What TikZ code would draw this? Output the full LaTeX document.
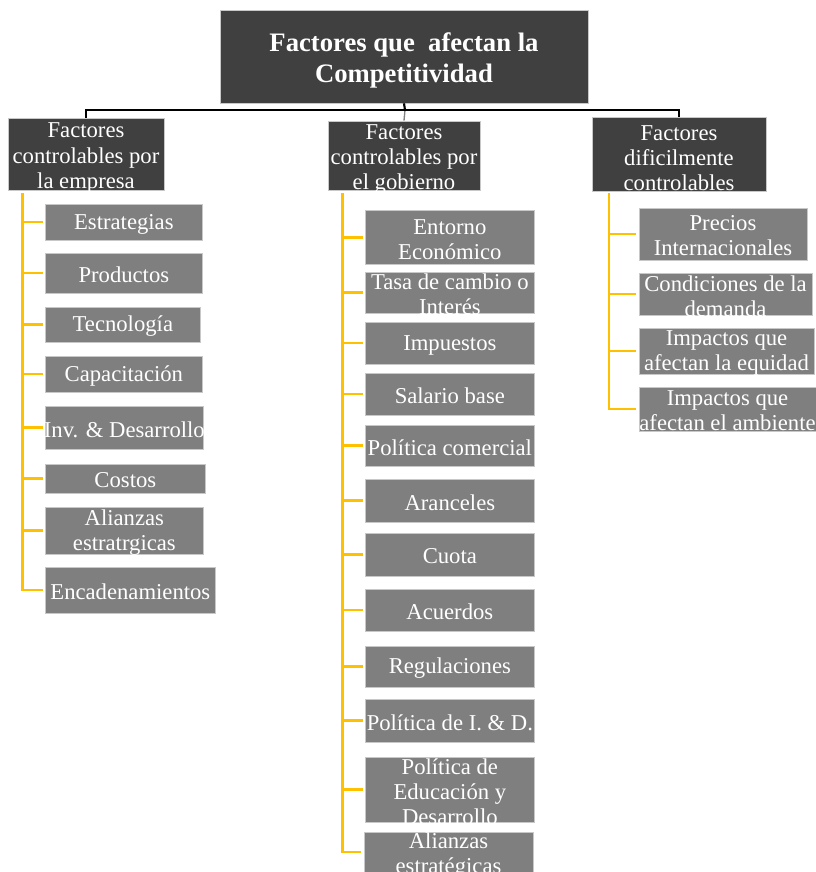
\documentclass[tikz,border=0pt]{standalone}
\usepackage{fontspec}
\setmainfont{Liberation Serif}
\usetikzlibrary{fit}
\definecolor{yel}{HTML}{FFC000}
\definecolor{darkbox}{HTML}{404040}
\definecolor{leafgray}{HTML}{7F7F7F}
\definecolor{edgegray}{HTML}{C8C8C8}
\tikzset{
  leafbox/.style={fill=leafgray, draw=edgegray, line width=0.5pt, inner sep=0pt},
  darkbox/.style={fill=darkbox, draw=edgegray, line width=0.5pt, inner sep=0pt},
  txt/.style={text=white, align=center, inner sep=0pt, yshift=-1.5pt, font=\fontsize{17}{18.8}\selectfont},
  titletxt/.style={text=white, align=center, inner sep=0pt, yshift=-3pt, font=\fontsize{20}{23}\selectfont\bfseries},
  yline/.style={draw=yel, line width=2.2pt, shorten >=2pt},
  bline/.style={draw=black, line width=1.6pt},
  gline/.style={draw=gray, line width=1pt}
}
\newcommand\leafnode[4]{%
  \node[leafbox, fit={#2 #3}] (#1) {};
  \node[txt] at (#1) {#4};
}
\begin{document}
\begin{tikzpicture}[x=0.75pt,y=-0.75pt]
\useasboundingbox (0,0) rectangle (816,872);
% title
\node[darkbox, fit={(220,10) (588,103)}] (title) {};
\node[titletxt] at (title) {Factores que\ \ afectan la\\Competitividad};
% level 2
\node[darkbox, fit={(8,118) (164,190)}] (c1) {};
\node[txt, yshift=-1.5pt] at (c1) {Factores\\controlables por\\la empresa};
\node[darkbox, fit={(328,121) (480,190)}] (c2) {};
\node[txt, yshift=-1.5pt] at (c2) {Factores\\controlables por\\el gobierno};
\node[darkbox, fit={(592,117) (766,191)}] (c3) {};
\node[txt, yshift=-1.5pt] at (c3) {Factores\\dificilmente\\controlables};
% black connectors
\coordinate (bj) at (405,110);
\draw[gline] (bj) -- (c2.north);
\draw[bline] (title.south) -- (bj);
\draw[bline] (c1.north) |- (bj) -| (c3.north);
% left column
\leafnode{l1}{(45.7,204)}{(202,240)}{Estrategias}
\leafnode{l2}{(45.7,253)}{(202,293)}{Productos}
\leafnode{l3}{(45.7,307)}{(200,342)}{Tecnología}
\leafnode{l4}{(45.7,356)}{(202,392)}{Capacitación}
\leafnode{l5}{(45.7,406)}{(203,449)}{Inv. \& Desarrollo}
\leafnode{l6}{(45.7,464)}{(205,493)}{Costos}
\leafnode{l7}{(45.7,507)}{(203,554)}{Alianzas\\estratrgicas}
\leafnode{l8}{(45.7,567)}{(215,613)}{Encadenamientos}
% middle column
\leafnode{m1}{(365.7,210.7)}{(534,264)}{Entorno\\Económico}
\leafnode{m2}{(365.7,272)}{(534,313)}{Tasa de cambio o\\Interés}
\leafnode{m3}{(365.7,322)}{(534,364)}{Impuestos}
\leafnode{m4}{(365.7,373)}{(534,415)}{Salario base}
\leafnode{m5}{(365.7,425)}{(534,466)}{Política comercial}
\leafnode{m6}{(365.7,479)}{(534,522)}{Aranceles}
\leafnode{m7}{(365.7,533)}{(534,576)}{Cuota}
\leafnode{m8}{(365.7,589)}{(534,631)}{Acuerdos}
\leafnode{m9}{(365.7,646)}{(534,687)}{Regulaciones}
\leafnode{m10}{(365.7,699)}{(534,742)}{Política de I. \& D.}
\leafnode{m11}{(365.7,757)}{(534,822)}{Política de\\Educación y\\Desarrollo}
\leafnode{m12}{(364,832)}{(533,876)}{Alianzas\\estratégicas}
% right column
\leafnode{r1}{(639,208)}{(807,260)}{Precios\\Internacionales}
\leafnode{r2}{(639,273)}{(812,315)}{Condiciones de la\\demanda}
\leafnode{r3}{(639,328)}{(814,374)}{Impactos que\\afectan la equidad}
\leafnode{r4}{(639,387)}{(816,431)}{Impactos que\\afectan el ambiente}
% yellow connectors
\coordinate (y1) at (22.7,193);
\coordinate (y2) at (342.7,193);
\coordinate (y3) at (609,193);
\foreach \n in {l1,l2,l3,l4,l5,l6,l7,l8} \draw[yline] (y1) |- (\n.west);
\foreach \n in {m1,m2,m3,m4,m5,m6,m7,m8,m9,m10,m11} \draw[yline] (y2) |- (\n.west);
\draw[yline] (y2) |- ([yshift=1.5pt]m12.west);
\foreach \n in {r1,r2,r3,r4} \draw[yline] (y3) |- (\n.west);
\end{tikzpicture}
\end{document}
